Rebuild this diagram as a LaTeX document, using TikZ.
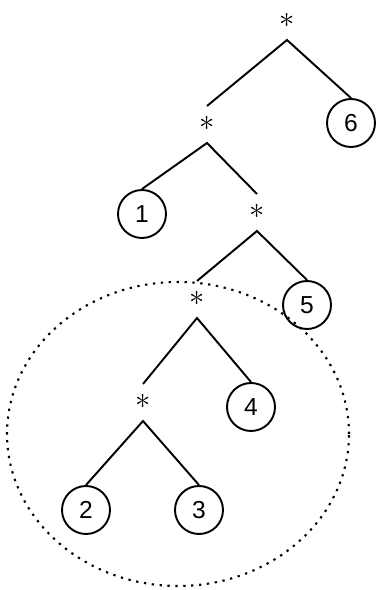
\documentclass[tikz,border=0pt]{standalone}
\usepackage{fontspec}
\setmainfont{Liberation Sans}

\begin{document}
\begin{tikzpicture}[
	leaf/.style={draw, circle, line width=1.1pt, minimum size=0.96cm, inner sep=0pt, font=\fontsize{14}{16}\selectfont},
	opnode/.style={inner sep=0pt, outer sep=0pt, anchor=south, text height=0.487cm, text depth=0.253cm, font=\fontsize{19}{21}\selectfont},
	branch/.style={line width=1.1pt}
]

	\useasboundingbox (0,0) rectangle (7.54,11.8);

	% Products
	\node[opnode, text height=0.3cm] (s1) at (5.74,11.0) {$\ast$};
	\node[opnode] (s2) at (4.14,8.94) {$\ast$};
	\node[opnode] (s3) at (5.14,7.18) {$\ast$};
	\node[opnode] (s4) at (3.94,5.44) {$\ast$};
	\node[opnode] (s5) at (2.86,3.38) {$\ast$};

	% Matrices
	\node[leaf] (m6) at (7.02,9.34) {6};
	\node[leaf] (m1) at (2.84,7.52) {1};
	\node[leaf] (m5) at (6.14,5.70) {5};
	\node[leaf] (m4) at (5.02,3.66) {4};
	\node[leaf] (m2) at (1.72,1.60) {2};
	\node[leaf] (m3) at (3.98,1.60) {3};

	% Branches
	\draw[branch] (s2.north) -- (s1.south) -- (m6.north);
	\draw[branch] (m1.north) -- (s2.south) -- (s3.north);
	\draw[branch] (s4.north) -- (s3.south) -- (m5.north);
	\draw[branch] (s5.north) -- (s4.south) -- (m4.north);
	\draw[branch] (m2.north) -- (s5.south) -- (m3.north);

	% Subchain
	\draw[line width=1.2pt, dash pattern=on 1.3pt off 3.2pt] (3.56,3.12) ellipse (3.42 and 3.04);

\end{tikzpicture}
\end{document}
